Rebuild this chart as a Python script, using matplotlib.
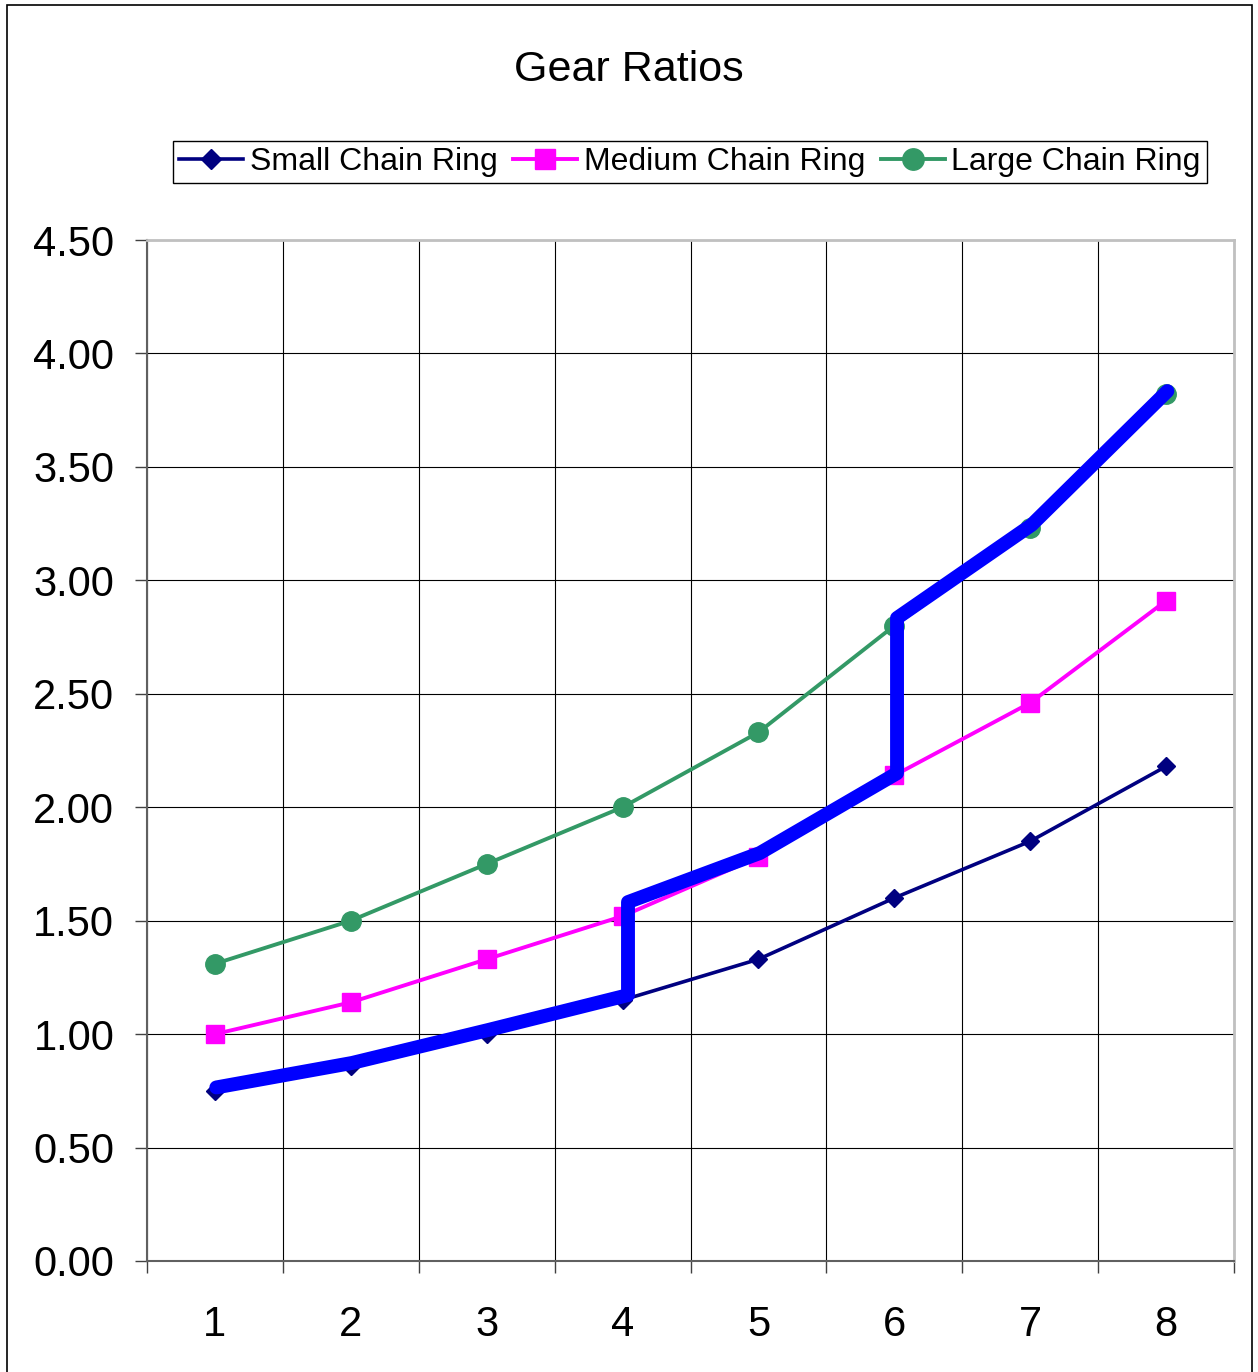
import matplotlib
matplotlib.use("Agg")
import matplotlib.pyplot as plt
from matplotlib.patches import Rectangle
from matplotlib.ticker import MultipleLocator, FixedLocator

# ── Data ──────────────────────────────────────────────────────────────────────
gears = [1, 2, 3, 4, 5, 6, 7, 8]
small_ring = [0.75, 0.86, 1.00, 1.15, 1.33, 1.60, 1.85, 2.18]
medium_ring = [1.00, 1.14, 1.33, 1.52, 1.78, 2.14, 2.46, 2.91]
large_ring = [1.31, 1.50, 1.75, 2.00, 2.33, 2.80, 3.23, 3.82]

# shifting path across the chain rings
shift_x = [1.01, 2.01, 3.01, 4.04, 4.04, 5.01, 6.02, 6.02, 7.01, 8.01]
shift_y = [0.765, 0.873, 1.018, 1.172, 1.582, 1.798, 2.15, 2.834, 3.244, 3.834]

# ── Palette ───────────────────────────────────────────────────────────────────
NAVY = "#000080"
MAGENTA = "#FF00FF"
GREEN = "#339966"
BLUE = "#0000FF"

plt.rcParams["font.family"] = ["Liberation Sans", "DejaVu Sans"]

fig = plt.figure(figsize=(12.58, 13.72), dpi=100)
ax = fig.add_axes([147 / 1258, 1 - 1261 / 1372, (1234 - 147) / 1258, (1261 - 240) / 1372])

# outer chart border
fig.patches.append(Rectangle((7 / 1258, -0.05), (1252 - 7) / 1258, 1.05 - 5 / 1372,
                             transform=fig.transFigure, fill=False,
                             edgecolor="black", linewidth=1.2))

ax.plot(gears, small_ring, color=NAVY, linewidth=2.6, marker="D", markersize=9,
        label="Small Chain Ring", zorder=3)
ax.plot(gears, medium_ring, color=MAGENTA, linewidth=2.8, marker="s", markersize=13,
        label="Medium Chain Ring", zorder=3)
ax.plot(gears, large_ring, color=GREEN, linewidth=2.8, marker="o", markersize=14,
        label="Large Chain Ring", zorder=3)
ax.plot(shift_x, shift_y, color=BLUE, linewidth=10, solid_joinstyle="round",
        solid_capstyle="round", zorder=4)

ax.set_xlim(0.5, 8.5)
ax.set_ylim(0, 4.5)

ax.yaxis.set_major_locator(MultipleLocator(0.5))
ax.set_yticklabels([f"{v:.2f}" for v in ax.get_yticks()])
ax.xaxis.set_major_locator(FixedLocator(gears))
ax.xaxis.set_minor_locator(MultipleLocator(1.0, offset=0.5))

ax.tick_params(axis="y", which="major", direction="out", length=8.5, width=1,
               color="#404040", labelsize=30, pad=15)
ax.tick_params(axis="x", which="major", length=0, labelsize=30, pad=32)
ax.tick_params(axis="x", which="minor", direction="out", length=8.5, width=1,
               color="#404040")

ax.grid(True, axis="y", which="major", color="black", linewidth=0.8)
ax.grid(True, axis="x", which="minor", color="black", linewidth=0.8)
ax.grid(False, axis="x", which="major")
ax.set_axisbelow(True)

for side in ["left", "bottom"]:
    ax.spines[side].set_color("#606060")
    ax.spines[side].set_linewidth(1.5)
for side in ["top", "right"]:
    ax.spines[side].set_color("#c0c0c0")
    ax.spines[side].set_linewidth(2)

fig.text(0.5, 1 - 70 / 1372, "Gear Ratios", ha="center", va="center", fontsize=31)

leg = fig.legend(loc="center", bbox_to_anchor=(690 / 1258, 1 - 162 / 1372), ncol=3,
                 fontsize=23, frameon=True, fancybox=False, framealpha=1,
                 edgecolor="black", handlelength=2.0, handletextpad=0.2,
                 columnspacing=0.5, borderpad=0.2, borderaxespad=0,
                 markerscale=1.1)
leg.get_frame().set_linewidth(1)

fig.savefig("out.png", dpi=100)
